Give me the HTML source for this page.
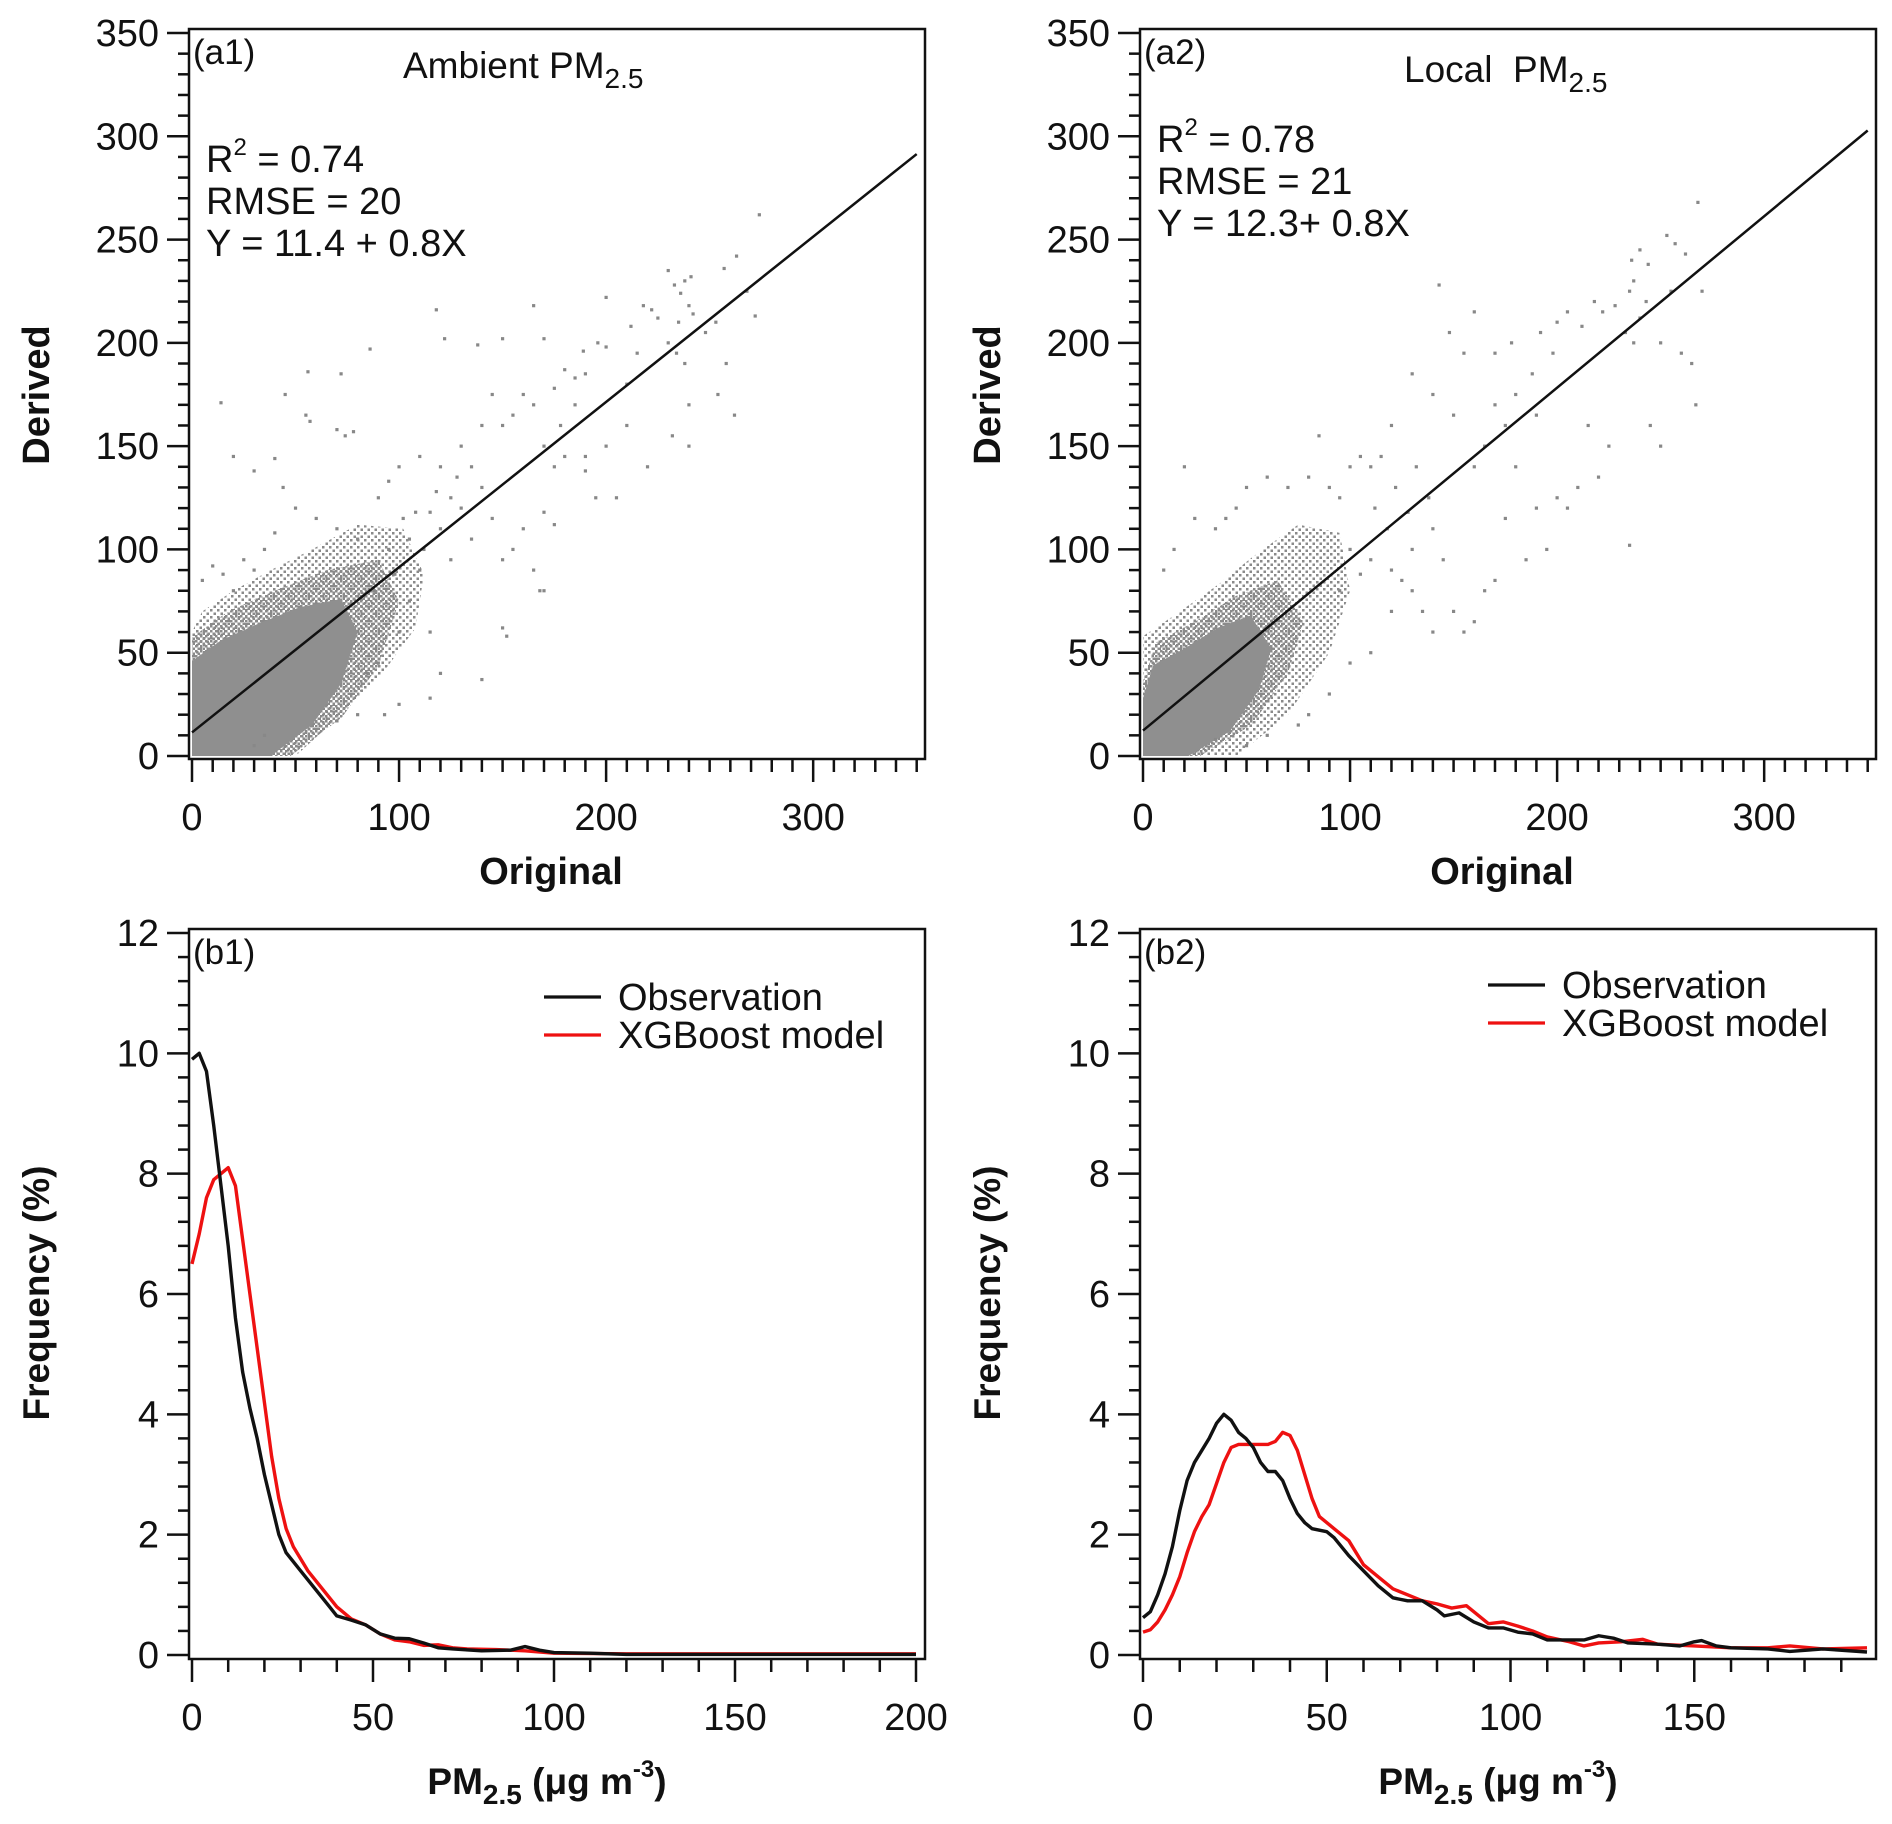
<!DOCTYPE html>
<html><head><meta charset="utf-8">
<style>
html,body{margin:0;padding:0;background:#fff;}
svg{display:block;font-family:"Liberation Sans",Arial,sans-serif;}
</style></head>
<body>
<svg id="fig" width="1892" height="1824" viewBox="0 0 1892 1824" xmlns="http://www.w3.org/2000/svg">
<defs>
<pattern id="dotsA" width="5" height="5" patternUnits="userSpaceOnUse"><rect x="0" y="0" width="2.5" height="2.5" fill="#8a8a8a"/><rect x="2.5" y="2.5" width="2.5" height="2.5" fill="#8a8a8a"/></pattern>
<pattern id="dotsB" width="7" height="7" patternUnits="userSpaceOnUse"><rect x="0" y="0" width="2.5" height="2.5" fill="#8a8a8a"/><rect x="3.5" y="3.5" width="2.5" height="2.5" fill="#8a8a8a"/></pattern>
</defs>
<g id="root"></g>
</svg>
<script>
// ---------- data ----------
const a1Intercept = 11.4, a1Slope = 0.8;
const a2Intercept = 12.3, a2Slope = 0.83;
const a1Outliers = [[274,262],[263,242],[257,236],[268,225],[272,213],[230,235],[233,228],[238,230],[241,232],[236,224],[240,218],[235,210],[242,214],[218,218],[222,216],[225,212],[212,208],[200,222],[196,200],[200,198],[189,196],[165,218],[170,202],[150,202],[138,199],[118,216],[122,202],[86,197],[72,185],[56,186],[14,171],[45,175],[55,165],[57,162],[70,158],[74,155],[78,157],[20,145],[30,138],[40,144],[44,130],[190,185],[185,183],[180,187],[175,178],[160,175],[165,170],[155,165],[145,175],[150,160],[140,160],[130,150],[120,140],[110,145],[100,140],[95,133],[90,125],[170,150],[175,140],[180,145],[190,145],[195,125],[190,138],[170,118],[175,112],[160,110],[150,95],[155,100],[165,90],[170,80],[168,80],[150,62],[152,58],[140,37],[120,40],[115,28],[100,25],[93,20],[80,20],[70,17],[30,5],[35,10],[230,200],[234,195],[238,190],[240,170],[232,155],[240,150],[248,205],[253,210],[262,165],[254,175],[258,190],[220,140],[210,160],[205,125],[130,120],[135,105],[125,95],[110,90],[105,75],[115,60],[100,60],[90,45],[85,40],[80,105],[70,110],[60,115],[50,120],[40,108],[35,100],[25,95],[15,88],[10,92],[5,85],[20,80],[30,90],[120,110],[125,125],[140,130],[145,115],[115,118],[105,105],[95,100],[200,150],[210,180],[215,195],[185,170],[178,160],[128,135],[118,128],[108,118],[135,140],[112,100],[98,88],[88,80],[102,115]];
const a1CoreOuter = [[0,0],[50,0],[72,20],[92,40],[108,62],[112,88],[102,110],[80,112],[58,100],[38,90],[20,80],[5,70],[0,60]];
const a1CoreInner = [[0,0],[38,0],[58,15],[72,35],[80,60],[72,76],[52,72],[32,64],[14,56],[0,46]];
const a2Outliers = [[268,268],[262,243],[253,252],[257,248],[244,238],[240,245],[236,240],[237,230],[235,225],[243,220],[240,212],[233,205],[237,200],[228,218],[222,215],[218,220],[212,208],[205,215],[200,210],[198,195],[192,205],[188,185],[178,200],[170,195],[160,215],[155,195],[143,228],[148,205],[267,170],[255,225],[250,200],[260,195],[265,190],[270,225],[235,102],[225,150],[215,160],[210,130],[200,125],[190,120],[180,140],[175,160],[165,150],[160,140],[150,165],[140,175],[130,185],[120,160],[115,145],[110,140],[105,145],[100,140],[95,125],[90,130],[85,155],[80,135],[70,130],[60,135],[50,130],[45,120],[40,115],[35,110],[25,115],[15,100],[10,90],[20,140],[100,100],[110,95],[120,90],[125,85],[130,80],[135,70],[140,60],[150,70],[155,60],[160,65],[165,80],[170,85],[145,95],[140,110],[195,100],[205,120],[220,135],[250,150],[245,160],[75,15],[80,20],[60,10],[50,5],[35,8],[100,45],[90,30],[110,50],[120,70],[130,100],[175,115],[185,95],[180,175],[170,170],[190,165],[122,130],[132,140],[112,120],[118,110],[128,118],[138,125],[105,88],[95,80]];
const a2CoreOuter = [[0,0],[45,0],[70,20],[90,50],[100,80],[95,108],[75,112],[55,98],[35,82],[15,68],[0,58]];
const a2CoreInner = [[0,0],[22,0],[42,12],[56,32],[62,52],[52,68],[36,62],[20,52],[5,44],[0,28]];

const b1ObsX = [0,2,4,6,8,10,12,14,16,18,20,22,24,26,30,34,38,40,44,48,52,56,60,64,68,72,80,88,92,96,100,110,120,200];
const b1ObsY = [9.9,10,9.7,8.8,7.8,6.8,5.6,4.7,4.1,3.6,3.0,2.5,2.0,1.7,1.4,1.1,0.8,0.65,0.58,0.5,0.35,0.28,0.27,0.2,0.12,0.1,0.07,0.08,0.14,0.08,0.04,0.03,0.01,0.01];
const b1ModX = [0,2,4,6,8,10,12,14,16,18,20,22,24,26,28,32,36,40,44,48,52,56,60,64,68,72,76,84,92,100,120,200];
const b1ModY = [6.5,7.0,7.6,7.9,8.0,8.1,7.8,6.9,6.0,5.1,4.2,3.3,2.6,2.1,1.8,1.4,1.1,0.8,0.6,0.5,0.35,0.25,0.22,0.16,0.17,0.12,0.1,0.09,0.07,0.03,0.02,0.02];
const b2ObsX = [0,2,4,6,8,10,12,14,16,18,20,22,24,26,28,30,32,34,36,38,40,42,44,46,50,52,56,60,64,68,72,76,80,82,86,90,94,98,102,106,110,114,120,124,128,132,140,146,150,152,156,160,170,176,185,197];
const b2ObsY = [0.62,0.72,1.0,1.35,1.8,2.4,2.9,3.2,3.4,3.6,3.85,4.0,3.9,3.7,3.6,3.45,3.2,3.05,3.05,2.9,2.6,2.35,2.2,2.1,2.05,1.95,1.65,1.4,1.15,0.95,0.9,0.9,0.75,0.65,0.7,0.55,0.45,0.45,0.38,0.35,0.25,0.25,0.25,0.32,0.28,0.2,0.18,0.15,0.22,0.24,0.15,0.12,0.1,0.06,0.1,0.05];
const b2ModX = [0,2,4,6,8,10,12,14,16,18,20,22,24,26,28,32,34,36,38,40,42,44,46,48,52,56,60,64,68,72,76,80,84,88,90,94,98,102,106,110,116,120,124,130,136,140,150,160,170,176,185,197];
const b2ModY = [0.38,0.42,0.55,0.75,1.0,1.3,1.7,2.05,2.3,2.5,2.85,3.2,3.45,3.5,3.5,3.5,3.5,3.55,3.7,3.65,3.4,3.0,2.6,2.3,2.1,1.9,1.5,1.3,1.1,1.0,0.9,0.85,0.78,0.82,0.72,0.52,0.55,0.48,0.4,0.3,0.22,0.15,0.2,0.22,0.26,0.18,0.15,0.12,0.12,0.15,0.1,0.12];

const scatterTicks = [0,50,100,150,200,250,300,350];
const scatterXTicks = [0,100,200,300];
const b1XTicks = [0,50,100,150,200];
const b2XTicks = [0,50,100,150];
const freqTicks = [0,2,4,6,8,10,12];

// ---------- helpers ----------
const NS = "http://www.w3.org/2000/svg";
const root = document.getElementById('root');
function mk(tag, attrs, parent){
  const e = document.createElementNS(NS, tag);
  for (const k in attrs) e.setAttribute(k, attrs[k]);
  (parent||root).appendChild(e);
  return e;
}
function panel(o){
  const g = mk('g', {});
  
  
  const sx = v => o.x0 + (v - o.xmin) / (o.xmax - o.xmin) * (o.x1 - o.x0);
  const sy = v => o.y0 - (v - o.ymin) / (o.ymax - o.ymin) * (o.y0 - o.y1);
  const fr = mk('rect', {x:o.fx0, y:o.fy0, width:o.fx1-o.fx0, height:o.fy1-o.fy0, fill:'none', stroke:'#111', 'stroke-width':2.5}, g);
  
  
  for (let v = o.ymin; v <= o.ymax + 1e-9; v += o.yminor){
    const major = Math.abs(v/o.ymajor - Math.round(v/o.ymajor)) < 1e-6;
    mk('line', {x1:o.fx0 - (major?22:11), x2:o.fx0, y1:sy(v), y2:sy(v), stroke:'#111','stroke-width':2.5}, g);
  }
  o.yticks.forEach(v=>{
    const t = mk('text', {x:o.fx0-30, y:sy(v)+13, 'text-anchor':'end', 'font-size':38, fill:'#111'}, g);
    t.textContent = v;
    
    
  });
  for (let v = o.xmin; v <= o.xmax + 1e-9; v += o.xminor){
    const major = Math.abs(v/o.xmajor - Math.round(v/o.xmajor)) < 1e-6;
    mk('line', {x1:sx(v), x2:sx(v), y1:o.fy1, y2:o.fy1 + (major?23:13), stroke:'#111','stroke-width':2.5}, g);
  }
  o.xticks.forEach(v=>{
    const t = mk('text', {x:sx(v), y:o.fy1+71, 'text-anchor':'middle', 'font-size':38, fill:'#111'}, g);
    t.textContent = v;
    
    
  });
  const lab = mk('text', {x:o.fx0+4, y:o.fy0+35, 'font-size':35, fill:'#111'}, g);
  lab.textContent = o.label;
  
  
  return {g, sx, sy};
}
function poly(p, pts, attrs, name){
  const e = mk('polygon', Object.assign({points: pts.map(q=>p.sx(q[0])+','+p.sy(q[1])).join(' ')}, attrs), p.g);
  
  
}
function scatter(p, pts, name){
  const g = mk('g', {fill:'#888'}, p.g);
  
  
  pts.forEach(q=>{
    const r = mk('rect', {x:p.sx(q[0])-1.6, y:p.sy(q[1])-1.6, width:3.2, height:3.2}, g);
    
    
  });
}
function line(p, xs, ys, color, name){
  const e = mk('polyline', {points: xs.map((x,i)=>p.sx(x)+','+p.sy(ys[i])).join(' '), fill:'none', stroke:color, 'stroke-width':3.4, 'stroke-linejoin':'round'}, p.g);
  
  
}
function txt(x, y, html, size, attrs, name, parent){
  const t = mk('text', Object.assign({x, y, 'font-size':size, fill:'#111'}, attrs||{}), parent);
  t.innerHTML = html;
  
  
  return t;
}

// ---------- scatter panels ----------
function scatterPanel(dx, name, label, outer, inner, outl, b0, b1, title, titleX, statsY, r2, rmse, eq){
  const p = panel({name, label, fx0:189+dx, fx1:925+dx, fy0:29, fy1:759, x0:192+dx, x1:916.7+dx, y0:756, y1:33,
    xmin:0,xmax:350,ymin:0,ymax:350, xminor:10,xmajor:100, yminor:10,ymajor:50, yticks:scatterTicks, xticks:scatterXTicks});
  poly(p, outer, {fill:'url(#dotsB)'}, 'scatter-density-sparse');
  poly(p, inner.map(q=>[q[0]*1.25,q[1]*1.25]), {fill:'url(#dotsA)'}, 'scatter-density-outer');
  poly(p, inner, {fill:'#8f8f8f'}, 'scatter-density-core');
  scatter(p, outl, 'scatter-points');
  const l = mk('line', {x1:p.sx(0), y1:p.sy(b0), x2:p.sx(350), y2:p.sy(b0 + b1*350), stroke:'#111','stroke-width':2.5}, p.g);
  
  
  txt(titleX, 78+(dx?4:0), title+' PM<tspan font-size="28" dy="10">2.5</tspan>', 37, {}, 'panel-title', p.g);
  txt(206+dx, statsY, 'R<tspan font-size="24" dy="-17">2</tspan><tspan dy="17"> = '+r2+'</tspan>', 38, {}, 'r-squared', p.g);
  txt(206+dx, statsY+42, 'RMSE = '+rmse, 38, {}, 'rmse', p.g);
  txt(206+dx, statsY+84, eq, 38, {}, 'regression-equation', p.g);
  txt(551+dx, 884, 'Original', 38, {'text-anchor':'middle','font-weight':'bold'}, 'x-axis-title', p.g);
  txt(0, 0, 'Derived', 38, {'text-anchor':'middle','font-weight':'bold', transform:'translate('+(49+dx)+',395) rotate(-90)'}, 'y-axis-title', p.g);
}
scatterPanel(0, 'panel-a1', '(a1)', a1CoreOuter, a1CoreInner, a1Outliers, a1Intercept, a1Slope, 'Ambient', 403, 172, '0.74', '20', 'Y = 11.4 + 0.8X');
scatterPanel(951, 'panel-a2', '(a2)', a2CoreOuter, a2CoreInner, a2Outliers, a2Intercept, a2Slope, 'Local&#160;', 1404, 152, '0.78', '21', 'Y = 12.3+ 0.8X');

// ---------- frequency panels ----------
function freqPanel(dx, name, label, xmax, xticks, obsX, obsY, modX, modY, legY, legX){
  const p = panel({name, label, fx0:189+dx, fx1:925+dx, fy0:929, fy1:1659, x0:192+dx, x1:916+dx, y0:1655, y1:933,
    xmin:0,xmax:xmax,ymin:0,ymax:12, xminor:10,xmajor:50, yminor:0.4,ymajor:2, yticks:freqTicks, xticks});
  line(p, modX, modY, '#ee1111', 'model-line');
  line(p, obsX, obsY, '#111', 'observation-line');
  const lg = mk('g', {}, p.g);
  
  
  mk('line', {x1:legX, x2:legX+57, y1:legY, y2:legY, stroke:'#111','stroke-width':3.2}, lg);
  txt(legX+74, legY+13, 'Observation', 38, {}, 'legend-entry-observation', lg);
  mk('line', {x1:legX, x2:legX+57, y1:legY+38, y2:legY+38, stroke:'#ee1111','stroke-width':3.2}, lg);
  txt(legX+74, legY+51, 'XGBoost model', 38, {}, 'legend-entry-model', lg);
  txt(547+dx, 1794, 'PM<tspan font-size="28" dy="10">2.5</tspan><tspan dy="-10"> (μg m</tspan><tspan font-size="24" dy="-17">-3</tspan><tspan dy="17">)</tspan>', 37, {'text-anchor':'middle','font-weight':'bold'}, 'x-axis-title', p.g);
  txt(0, 0, 'Frequency (%)', 37, {'text-anchor':'middle','font-weight':'bold', transform:'translate('+(49+dx)+',1293) rotate(-90)'}, 'y-axis-title', p.g);
}
freqPanel(0, 'panel-b1', '(b1)', 200, b1XTicks, b1ObsX, b1ObsY, b1ModX, b1ModY, 997, 544);
freqPanel(951, 'panel-b2', '(b2)', 197, b2XTicks, b2ObsX, b2ObsY, b2ModX, b2ModY, 985, 1488);
</script>
</body></html>
